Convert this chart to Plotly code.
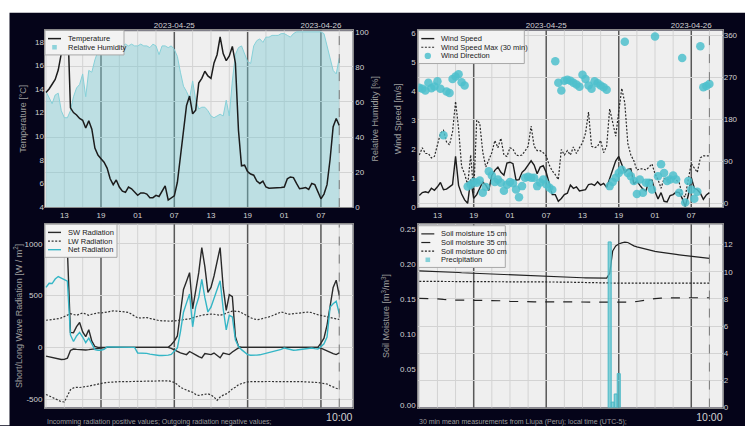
import pandas as pd
import plotly.graph_objects as go

# ---------------- data (30-min samples, 2023-04-24 10:00 .. 2023-04-26 10:00, local time) ----------------
start = "2023-04-24 10:00"
t30 = pd.date_range(start, periods=97, freq="30min")
t60 = pd.date_range(start, periods=49, freq="h")

temperature = [13.7, 14.0, 14.4, 14.8, 15.6, 17.0, 19.5, 20.5, 12.4, 12.0, 11.8, 11.5, 11.35, 10.7, 11.3, 10.6,
               9.0, 8.4, 8.1, 7.8, 7.3, 6.4, 5.9, 6.3, 5.7, 5.35, 5.25, 5.7, 5.55, 5.3, 5.0, 5.2,
               5.2, 5.1, 4.8, 4.8, 5.0, 4.9, 5.3, 5.8, 4.6, 4.75, 4.95, 6.1, 8.4, 10.5, 12.6, 13.4,
               11.9, 12.2, 14.5, 14.9, 15.5, 15.1, 14.9, 16.2, 16.9, 18.4, 17.0, 16.4, 16.8, 17.6, 16.2, 10.5,
               7.5, 7.55, 7.0, 6.8, 6.7, 6.2, 6.0, 6.2, 5.7, 5.6, 5.6, 5.6, 5.6, 5.65, 5.7, 6.4,
               6.55, 6.5, 6.0, 5.55, 5.6, 5.65, 5.5, 6.0, 5.9, 5.3, 4.7, 5.1, 5.9, 8.05, 10.8, 11.5,
               10.9]
humidity = [66, 62, 59, 64, 65, 55, 51, 51, 55, 63, 68, 70, 76, 63, 78, 77,
            84, 89, 92, 91, 92, 93, 92, 91, 93, 92, 93, 92, 93, 92, 92, 93,
            92, 92, 91, 93, 92, 87, 92, 92, 91, 92, 90, 86, 77, 69, 66, 62,
            72, 61, 56, 57, 57, 55, 52, 51, 52, 53, 52, 61, 52, 72, 87, 91,
            92, 88, 83, 82, 92, 95, 96, 94, 97, 97, 98, 98, 98, 99, 99, 98,
            97, 99, 100, 100, 100, 100, 100, 100, 100, 100, 100, 99, 92, 84, 78, 76,
            85]

wind_speed = [0.4, 0.5, 0.53, 0.5, 0.65, 0.58, 0.7, 0.85, 0.6, 0.62, 0.7, 0.78, 1.75, 0.75, 0.45, 0.25,
              0.13, 0.95, 0.3, 0.43, 0.65, 0.87, 0.76, 0.58, 1.1, 1.27, 1.38, 1.2, 1.1, 1.52, 1.55, 1.5,
              0.93, 0.95, 1.2, 1.3, 1.45, 1.6, 1.45, 1.15, 1.38, 1.43, 1.2, 0.78, 0.43, 0.43, 0.2, 0.3,
              0.43, 0.48, 0.76, 0.65, 0.7, 0.56, 0.58, 0.6, 0.78, 0.8, 0.75, 0.87, 0.76, 0.82, 0.68, 1.0,
              1.35, 1.6, 1.75, 1.45, 1.2, 1.3, 1.32, 0.8, 0.9, 0.75, 0.62, 0.55, 0.93, 0.93, 0.54, 0.28,
              0.5, 0.2, 0.18, 0.4, 0.43, 0.52, 0.5, 0.3, 0.02, 0.4, 1.02, 0.65, 0.6, 0.48, 0.27, 0.42,
              0.5]
wind_speed_max = [1.8, 2.05, 1.85, 1.85, 1.7, 1.75, 2.15, 2.55, 2.65, 2.25, 2.15, 2.6, 3.65, 2.7, 1.4, 1.15,
                  0.75, 1.8, 0.5, 3.0, 2.9, 1.9, 1.38, 1.65, 1.88, 2.3, 2.05, 2.38, 1.8, 1.75, 2.05, 2.0,
                  1.8, 1.77, 1.8, 1.94, 2.1, 2.8, 2.1, 1.95, 1.95, 1.88, 1.77, 1.45, 1.25, 1.12, 0.95, 1.99,
                  1.8, 1.95, 1.8, 2.08, 1.85, 2.05, 2.22, 2.55, 3.28, 2.1, 2.05, 2.1, 2.3, 1.88, 2.1, 3.39,
                  2.9, 2.45, 3.3, 4.1, 3.6, 2.2, 1.8, 1.6, 1.28, 1.32, 1.32, 1.28, 1.38, 1.49, 1.15, 0.95,
                  0.65, 0.99, 0.93, 1.0, 1.02, 0.95, 0.85, 0.43, 0.35, 0.95, 1.5, 1.35, 1.2, 1.7, 1.77, 1.77,
                  1.77]
wind_direction = [248, 246, 242, 259, 247, 251, 262, 246, 146, 240, 237, 267, 272, 277, 260, 253,
                  36, 40, 46, 44, 49, 23, 35, 69, 60, 46, 51, 44, 27, 40, 46, 43,
                  30, 13, 37, 55, 57, 55, 55, 37, 45, 51, 41, 34, 29, 305, 259, 242,
                  263, 265, 263, 259, 255, 250, 276, 267, 253, 246, 262, 258, 253, 249, 244, 37,
                  46, 55, 65, 72, 347, 65, 58, 48, 20, 51, 23, 44, 44, 30, 358, 58,
                  84, 65, 48, 51, 60, 51, 23, 312, 2, 48, 30, 10, 25, 337, 249, 252,
                  256]

sw_in = [880, 930, 920, 990, 1010, 980, 960, 940, 145, 142, 200, 240, 150, 104, 170, 60,
         8, 0, 0, 0, 0, 0, 0, 0, 0, 0, 0, 0, 0, 0, 0, 0,
         0, 0, 0, 0, 0, 0, 0, 0, 0, 25, 60, 110, 330, 560, 640, 722,
         373, 548, 722, 965, 780, 532, 579, 690, 832, 965, 579, 358, 510, 490, 104, 10,
         0, 0, 0, 0, 0, 0, 0, 0, 0, 0, 0, 0, 0, 0, 0, 0,
         0, 0, 0, 0, 0, 0, 0, 0, 0, 0, 41, 89, 215, 421, 579, 649,
         500]
sw_out = [-85, -92, -101, -108, -114, -117, -116, -105, -30, -16, -20, -22, -28, -25, -22, -18,
          -12, -6, -3, 0, 0, 0, 0, 0, 0, 0, 0, 0, 0, 0, 0, 0,
          0, 0, 0, 0, 0, 0, 0, 0, 0, -10, -22, -40, -54, -62, -70, -40,
          -60, -72, -90, -101, -60, -65, -70, -55, -80, -101, -55, -60, -70, -45, -22, -6,
          0, 0, 0, 0, 0, 0, 0, 0, 0, 0, 0, 0, 0, 0, 0, 0,
          0, 0, 0, 0, 0, 0, 0, 0, 0, 0, -8, -22, -35, -50, -60, -70,
          -54]
lw_in = [262, 265, 268, 272, 277, 285, 300, 315, 325, 318, 310, 322, 332, 322, 310, 320,
         330, 333, 332, 338, 345, 351, 352, 351, 350, 347, 342, 338, 322, 306, 285, 284,
         286, 288, 280, 271, 265, 259, 256, 254, 253, 254, 256, 259, 263, 266, 268, 275,
         285, 295, 303, 310, 316, 320, 321, 320, 315, 310, 318, 333, 342, 350, 351, 348,
         335, 318, 300, 287, 275, 268, 271, 277, 285, 295, 305, 318, 332, 342, 335, 322,
         322, 325, 327, 330, 333, 338, 342, 335, 322, 315, 309, 303, 297, 292, 288, 280,
         269]
lw_out = [-455, -468, -485, -500, -512, -525, -528, -470, -410, -392, -386, -388, -386, -380, -375, -368,
          -360, -354, -348, -343, -339, -336, -334, -332, -332, -332, -331, -332, -332, -331, -330, -330,
          -329, -329, -329, -328, -327, -326, -325, -324, -323, -330, -339, -360, -386, -400, -415, -425,
          -434, -455, -465, -460, -452, -449, -460, -480, -513, -480, -462, -450, -430, -402, -385, -362,
          -350, -340, -334, -331, -330, -329, -329, -329, -329, -330, -330, -331, -332, -332, -331, -331,
          -332, -332, -333, -332, -332, -333, -333, -332, -335, -340, -345, -350, -354, -370, -386, -395,
          -402]
net_radiation = [579, 620, 617, 660, 685, 670, 658, 640, 120, 57, 110, 145, 100, 45, 89, 30,
                 -22, -28, -28, -20, 3, 3, 2, 2, 1, 1, 0, 0, 0, 0, -54, -54,
                 -55, -58, -65, -72, -79, -79, -79, -78, -75, -68, -40, -5, 150, 340, 430, 516,
                 199, 389, 484, 658, 480, 342, 389, 470, 560, 643, 373, 168, 310, 294, 73, 10,
                 -22, -45, -70, -76, -79, -75, -72, -65, -56, -50, -47, -40, -30, -20, -6, -15,
                 -22, -28, -25, -22, -19, -16, -8, -6, -12, -16, 5, 35, 100, 389, 421, 446,
                 326]

soil_15 = [0.1905, 0.1904, 0.1902, 0.1901, 0.1900, 0.1898, 0.1897, 0.1895, 0.1894, 0.1892, 0.1890, 0.1887,
           0.1885, 0.1883, 0.1880, 0.1878, 0.1876, 0.1875, 0.1873, 0.1870, 0.1868, 0.1865, 0.1862, 0.1860,
           0.1858, 0.1857, 0.1855, 0.1854, 0.1852, 0.1851, 0.1850, 0.1848, 0.1846, 0.1843, 0.1840, 0.1838,
           0.1835, 0.1832, 0.1830, 0.1828, 0.1826, 0.1824, 0.1822, 0.1820, 0.1818, 0.1817, 0.1815, 0.1814,
           0.1813, 0.1813, 0.1812, 0.1811, 0.1810, 0.1809, 0.1808, 0.1807, 0.1806, 0.1805, 0.1804, 0.1804,
           0.1803, 0.1803, 0.1803, 0.1870, 0.2190, 0.2260, 0.2290, 0.2305, 0.2315, 0.2310, 0.2285, 0.2262,
           0.2248, 0.2236, 0.2225, 0.2215, 0.2205, 0.2195, 0.2185, 0.2178, 0.2170, 0.2163, 0.2157, 0.2151,
           0.2145, 0.2140, 0.2134, 0.2128, 0.2122, 0.2117, 0.2112, 0.2107, 0.2102, 0.2097, 0.2092, 0.2087,
           0.2083]
soil_35 = [0.1515, 0.1514, 0.1512, 0.1508, 0.1500, 0.1492, 0.1490, 0.1490, 0.1490, 0.1490, 0.1489, 0.1488,
           0.1487, 0.1486, 0.1480, 0.1472, 0.1468, 0.1467, 0.1467, 0.1466, 0.1466, 0.1465, 0.1465, 0.1464,
           0.1464, 0.1464, 0.1463, 0.1462, 0.1460, 0.1457, 0.1455, 0.1455, 0.1455, 0.1455, 0.1456, 0.1460,
           0.1470, 0.1485, 0.1500, 0.1512, 0.1518, 0.1522, 0.1523, 0.1524, 0.1524, 0.1524, 0.1524, 0.1524,
           0.1524]
soil_60 = [0.1757, 0.1757, 0.1757, 0.1757, 0.1757, 0.1757, 0.1757, 0.1757, 0.1757, 0.1757, 0.1757, 0.1757,
           0.1757, 0.1757, 0.1757, 0.1757, 0.1756, 0.1755, 0.1754, 0.1752, 0.1750, 0.1750, 0.1749, 0.1748,
           0.1747, 0.1745, 0.1742, 0.1738, 0.1735, 0.1733, 0.1733, 0.1733, 0.1733, 0.1733, 0.1733, 0.1733,
           0.1733, 0.1733, 0.1733, 0.1733, 0.1733, 0.1733, 0.1733, 0.1733, 0.1733, 0.1733, 0.1733, 0.1733,
           0.1733]
precip_times = ["2023-04-25 17:30", "2023-04-25 18:00", "2023-04-25 18:30", "2023-04-25 19:00"]
precip_values = [12.2, 0.4, 1.0, 2.5]

radiation_ticks = [-500, 0, 500, 1000]
end_label = "10:00"

# ---------------- styling ----------------
W, H = 745, 426
FONT = "Liberation Sans, Arial, sans-serif"
TICK = "#d2d2d2"
TITLE = "#9c9c9c"
BG = "#050419"
GRID = "#d3d3d3"
DARK = "#585858"
FINE_DOT = "2px,1.6px"

st_temp = dict(color="#1c1c1c", width=1.5)
st_rh = dict(color="#86d0d8", width=1)
rh_fill = "rgba(120,200,210,0.42)"
st_ws = dict(color="#1c1c1c", width=1.4)
st_wsmax = dict(color="#2a2a2a", width=1.2, dash=FINE_DOT)
wd_color = "rgba(78,192,204,0.85)"
st_sw = dict(color="#2a2a2a", width=1.4)
st_lw = dict(color="#333333", width=1.2, dash=FINE_DOT)
st_net = dict(color="#35b6c6", width=1.4)
st_s15 = dict(color="#222222", width=1.2)
st_s35 = dict(color="#222222", width=1.2, dash="dash")
st_s60 = dict(color="#222222", width=1.2, dash=FINE_DOT)
pr_color = "rgba(95,198,208,0.75)"


def fx(px):
    return px / W


def fy(py):
    return 1 - py / H


XL = [fx(45), fx(352.7)]
XR = [fx(418.3), fx(722.7)]
YT = [fy(208), fy(28)]
YB = [fy(412.3), fy(225.5)]

xrange = [t30[0] - pd.Timedelta(minutes=10), t30[0] + pd.Timedelta(hours=50.2)]
HOUR = 3600 * 1000
grid_times = [t for t in t30 if t.minute == 0 and t.hour % 3 == 1]
date_ticks = [t for t in t30 if t.minute == 0 and t.hour == 7]
date_text = [t.strftime("%Y-%m-%d") for t in date_ticks]

fig = go.Figure()

# panel 1: temperature / humidity
fig.add_trace(go.Scatter(x=t30, y=humidity, name="Relative Humidity", mode="lines", line=st_rh,
                         fill="tozeroy", fillcolor=rh_fill, xaxis="x", yaxis="y"))
fig.add_trace(go.Scatter(x=t30, y=temperature, name="Temperature", mode="lines", line=st_temp,
                         xaxis="x", yaxis="y2"))
# panel 2: wind
fig.add_trace(go.Scatter(x=t30, y=wind_speed, name="Wind Speed", mode="lines", line=st_ws,
                         xaxis="x2", yaxis="y3"))
fig.add_trace(go.Scatter(x=t30, y=wind_speed_max, name="Wind Speed Max (30 min)", mode="lines",
                         line=st_wsmax, xaxis="x2", yaxis="y3"))
fig.add_trace(go.Scatter(x=t30, y=wind_direction, name="Wind Direction", mode="markers",
                         marker=dict(color=wd_color, size=8.5), xaxis="x2", yaxis="y4"))
# panel 3: radiation
for ys, name, st in [(sw_in, "SW Radiation", st_sw), (sw_out, "SW Radiation", st_sw),
                     (lw_in, "LW Radiation", st_lw), (lw_out, "LW Radiation", st_lw),
                     (net_radiation, "Net Radiation", st_net)]:
    fig.add_trace(go.Scatter(x=t30, y=ys, name=name, mode="lines", line=st, xaxis="x3", yaxis="y5"))
# panel 4: soil moisture / precipitation
fig.add_trace(go.Scatter(x=t30, y=soil_15, name="Soil moisture 15 cm", mode="lines", line=st_s15,
                         xaxis="x4", yaxis="y6"))
fig.add_trace(go.Scatter(x=t60, y=soil_35, name="Soil moisture 35 cm", mode="lines", line=st_s35,
                         xaxis="x4", yaxis="y6"))
fig.add_trace(go.Scatter(x=t60, y=soil_60, name="Soil moisture 60 cm", mode="lines", line=st_s60,
                         xaxis="x4", yaxis="y6"))
fig.add_trace(go.Bar(x=pd.to_datetime(precip_times), y=precip_values, name="Precipitation",
                     width=1800 * 1000, marker=dict(color=pr_color, line=dict(color="#4ab8c5", width=1)),
                     xaxis="x4", yaxis="y7"))

# empty helper traces so the date axes on top of the upper panels get drawn
for xa, ya in [("x5", "y"), ("x6", "y3")]:
    fig.add_trace(go.Scatter(x=[t30[0], t30[-1]], y=[None, None], mode="lines", xaxis=xa, yaxis=ya,
                             hoverinfo="skip", showlegend=False))

tickfont = dict(family=FONT, size=8, color=TICK)
titlefont = dict(family=FONT, size=9, color=TITLE)
endfont = dict(family=FONT, size=10.5, color=TICK)
frame = dict(showline=True, linecolor="#8a8a8a", linewidth=1, mirror=True)


def hours_x(domain, anchor):
    return dict(domain=domain, anchor=anchor, type="date", range=xrange,
                tickmode="linear", tick0="2023-04-24 13:00", dtick=6 * HOUR, tickformat="%H",
                tickfont=tickfont, ticks="", showgrid=False, zeroline=False, **frame)


def end_x(domain, anchor):
    return dict(domain=domain, anchor=anchor, type="date", range=xrange,
                tickmode="array", tickvals=[t30[-1]], ticktext=[end_label], tickfont=endfont,
                ticks="", showgrid=False, zeroline=False, **frame)


def date_x(over, anchor):
    return dict(overlaying=over, anchor=anchor, side="top", type="date", range=xrange,
                tickmode="array", tickvals=date_ticks, ticktext=date_text, tickfont=tickfont,
                ticks="", showgrid=False, showline=False, zeroline=False)


def yax(**kw):
    base = dict(tickfont=tickfont, ticks="", zeroline=False, title_font=titlefont)
    base.update(kw)
    return base


fig.update_layout(
    width=W, height=H, margin=dict(l=0, r=0, t=0, b=0), showlegend=False,
    paper_bgcolor=BG, plot_bgcolor="#efefef",
    font=dict(family=FONT, size=8, color=TICK),
    xaxis=hours_x(XL, "y"),
    xaxis2=hours_x(XR, "y3"),
    xaxis3=end_x(XL, "y5"),
    xaxis4=end_x(XR, "y6"),
    xaxis5=date_x("x", "y"),
    xaxis6=date_x("x2", "y3"),
    yaxis=yax(domain=YT, anchor="x", side="right", range=[0, 100.8], tickvals=[0, 20, 40, 60, 80, 100],
              showgrid=True, gridcolor=GRID, title=dict(text="Relative Humidity [%]", standoff=3), **frame),
    yaxis2=yax(overlaying="y", anchor="x", side="left", range=[4, 18.95], dtick=2, showgrid=False,
               title=dict(text="Temperature [°C]", standoff=6)),
    yaxis3=yax(domain=YT, anchor="x2", side="left", range=[0, 6.1], dtick=1, showgrid=False,
               title=dict(text="Wind Speed [m/s]", standoff=8), **frame),
    yaxis4=yax(overlaying="y3", anchor="x2", side="right", range=[-8, 371],
               tickvals=[0, 90, 180, 270, 360], showgrid=True, gridcolor=GRID),
    yaxis5=yax(domain=YB, anchor="x3", side="left", range=[-582, 1190], tickmode="array",
               tickvals=radiation_ticks, ticktext=[str(v) for v in radiation_ticks],
               showgrid=True, gridcolor=GRID,
               title=dict(text="Short/Long Wave Radiation [W / m<sup>2</sup>]", standoff=0), **frame),
    yaxis6=yax(domain=YB, anchor="x4", side="left", range=[-0.004, 0.257],
               tickvals=[0, 0.05, 0.10, 0.15, 0.20, 0.25], tickformat=".2f", showgrid=False,
               title=dict(text="Soil Moisture [m<sup>3</sup>/m<sup>3</sup>]", standoff=8), **frame),
    yaxis7=yax(overlaying="y6", anchor="x4", side="right", range=[0, 13.5], tickvals=[0, 2, 4, 6, 8, 10, 12],
               showgrid=True, gridcolor=GRID),
    barmode="overlay",
)

shapes = [
    dict(type="rect", xref="paper", yref="paper", x0=-0.01, x1=1.01, y0=fy(10), y1=1.01,
         fillcolor="white", line=dict(width=0), layer="below"),
    dict(type="rect", xref="paper", yref="paper", x0=-0.01, x1=fx(9.5), y0=-0.01, y1=1.01,
         fillcolor="white", line=dict(width=0), layer="below"),
]
# vertical time grid: light every 3 h, dark at 19:00 and 07:00; dashed at the last measurement
for xa, ya in [("x", "y"), ("x2", "y3"), ("x3", "y5"), ("x4", "y6")]:
    for t in grid_times:
        dark = t.hour in (7, 19)
        shapes.append(dict(type="line", xref=xa, yref=ya + " domain", x0=t, x1=t, y0=0, y1=1,
                           line=dict(color=DARK if dark else GRID, width=1.5 if dark else 1), layer="below"))
    shapes.append(dict(type="line", xref=xa, yref=ya + " domain", x0=t30[-1], x1=t30[-1], y0=0, y1=1,
                       line=dict(color="#7a7a7a", width=1, dash="dash"), layer="above"))

annotations = []


def legend_box(left, top, width, entries):
    """Compact legend drawn in the top-left corner of a panel (pixel positions)."""
    row = 8.8
    first = top + 8.3
    bottom = first + row * (len(entries) - 1) + 7.8
    shapes.append(dict(type="rect", xref="paper", yref="paper", x0=fx(left), x1=fx(left + width),
                       y0=fy(bottom), y1=fy(top), fillcolor="#f3f3f3",
                       line=dict(color="#a8a8a8", width=1), layer="above"))
    for i, (label, kind, style) in enumerate(entries):
        yc = first + i * row
        cx = left + 9.5
        if kind == "line":
            shapes.append(dict(type="line", xref="paper", yref="paper", x0=fx(left + 3), x1=fx(left + 16),
                               y0=fy(yc), y1=fy(yc), line=style, layer="above"))
        elif kind == "square":
            shapes.append(dict(type="rect", xref="paper", yref="paper", x0=fx(cx - 2.3), x1=fx(cx + 2.3),
                               y0=fy(yc + 2.3), y1=fy(yc - 2.3), fillcolor=style,
                               line=dict(width=0), layer="above"))
        else:
            shapes.append(dict(type="circle", xref="paper", yref="paper", x0=fx(cx - 3.2), x1=fx(cx + 3.2),
                               y0=fy(yc + 3.2), y1=fy(yc - 3.2), fillcolor=style,
                               line=dict(width=0), layer="above"))
        annotations.append(dict(text=label, xref="paper", yref="paper", x=fx(left + 21), y=fy(yc),
                                xanchor="left", yanchor="middle", showarrow=False,
                                font=dict(family=FONT, size=7.5, color="#1a1a1a")))


legend_box(45, 28, 79, [("Temperature", "line", st_temp), ("Relative Humidity", "square", "#8fd3db")])
legend_box(418.3, 28, 106, [("Wind Speed", "line", st_ws), ("Wind Speed Max (30 min)", "line", st_wsmax),
                            ("Wind Direction", "circle", wd_color)])
legend_box(45, 225.5, 72, [("SW Radiation", "line", st_sw), ("LW Radiation", "line", st_lw),
                           ("Net Radiation", "line", st_net)])
legend_box(418.3, 227, 87, [("Soil moisture 15 cm", "line", st_s15), ("Soil moisture 35 cm", "line", st_s35),
                            ("Soil moisture 60 cm", "line", st_s60), ("Precipitation", "square", pr_color)])

annotations.append(dict(text="Incomming radiation positive values; Outgoing radiation negative values;",
                        xref="paper", yref="paper", x=fx(45), y=fy(420.5), xanchor="left", yanchor="top",
                        showarrow=False, font=dict(family=FONT, size=7, color=TITLE)))
annotations.append(dict(text="30 min mean measurements from Llupa (Peru); local time (UTC-5);",
                        xref="paper", yref="paper", x=fx(417), y=fy(420.5), xanchor="left", yanchor="top",
                        showarrow=False, font=dict(family=FONT, size=7, color=TITLE)))

fig.update_layout(shapes=shapes, annotations=annotations)
fig.write_html("out.html", config={"displayModeBar": False},
               post_script=("document.body.style.margin='0px';document.body.style.overflow='hidden';"
                            "document.body.style.background='" + BG + "';"))
